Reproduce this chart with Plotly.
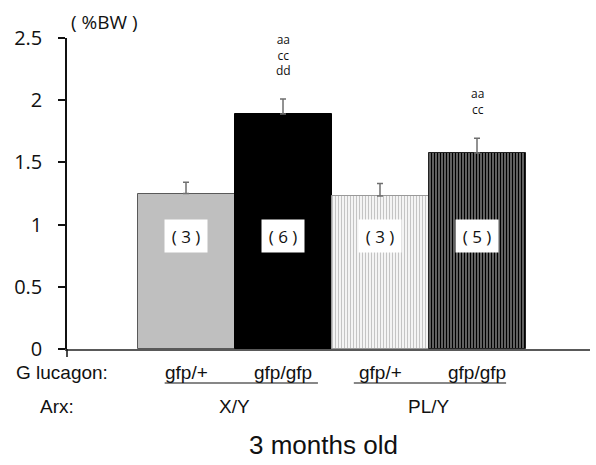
import plotly.graph_objects as go

categories = ["X/Y gfp/+", "X/Y gfp/gfp", "PL/Y gfp/+", "PL/Y gfp/gfp"]
values = [1.25, 1.89, 1.23, 1.575]
errors = [0.09, 0.12, 0.10, 0.12]
n_labels = ["( 3 )", "( 6 )", "( 3 )", "( 5 )"]
sig_labels = [[], ["aa", "cc", "dd"], [], ["aa", "cc"]]
glucagon_labels = ["gfp/+", "gfp/gfp", "gfp/+", "gfp/gfp"]
arx_labels = ["X/Y", "PL/Y"]
yticks = [0, 0.5, 1, 1.5, 2, 2.5]
ytick_text = ["0", "0.5", "1", "1.5", "2", "2.5"]

x = list(range(len(categories)))
narrow = "Liberation Sans, Arial, sans-serif"
main_font = "Open Sans, Noto Sans, sans-serif"

L, R, T, B = 67, 6, 38, 116
W, H = 596, 465
pw, ph = W - L - R, H - T - B
unit_px = ph / 2.5


def px_x(p):
    return (p - L) / pw


def px_y(p):
    return (H - B - p) / ph


fig = go.Figure()
colors = ["#bfbfbf", "#000000", "#ffffff", "#ffffff"]
patterns = [
    dict(shape=""),
    dict(shape=""),
    dict(shape="|", fgcolor="#c4c4c4", bgcolor="#ffffff", size=3, solidity=0.45, fillmode="replace"),
    dict(shape="|", fgcolor="#000000", bgcolor="#ffffff", size=3, solidity=0.75, fillmode="replace"),
]
line_colors = ["#595959", "#000000", "#9a9a9a", "#222222"]
for i in x:
    fig.add_trace(go.Bar(
        x=[i], y=[values[i]], width=1.0,
        marker=dict(color=colors[i], pattern=patterns[i],
                    line=dict(color=line_colors[i], width=1)),
        error_y=dict(type="data", symmetric=False, array=[errors[i]], arrayminus=[0],
                     color="#6f6f6f", thickness=1.5, width=3),
        showlegend=False,
    ))

txt = dict(color="#111111")
annotations = []
for i in x:
    annotations.append(dict(x=i, y=0.905, xref="x", yref="y", text=n_labels[i],
                            showarrow=False, bgcolor="#ffffff", width=40, height=30,
                            xanchor="center", yanchor="middle",
                            font=dict(family=main_font, size=17, **txt)))
    lines = sig_labels[i]
    if lines:
        base = values[i] + errors[i] + (29 + (len(lines) - 1) * 7.5) / unit_px
        annotations.append(dict(x=i, y=base, xref="x", yref="y",
                                text="<br>".join(lines), showarrow=False,
                                yanchor="middle", xanchor="center",
                                font=dict(family=main_font, size=12, **txt)))
    annotations.append(dict(x=i, y=px_y(372), xref="x", yref="paper", text=glucagon_labels[i],
                            showarrow=False, xanchor="center", yanchor="middle",
                            font=dict(family=narrow, size=19, **txt)))

for k, lab in enumerate(arx_labels):
    annotations.append(dict(x=2 * k + 0.5, y=px_y(406), xref="x", yref="paper", text=lab,
                            showarrow=False, xanchor="center", yanchor="middle",
                            font=dict(family=narrow, size=19, **txt)))

annotations.append(dict(x=px_x(14), y=px_y(372), xref="paper", yref="paper", text="G lucagon:",
                        showarrow=False, xanchor="left", yanchor="middle",
                        font=dict(family=narrow, size=19, **txt)))
annotations.append(dict(x=px_x(38), y=px_y(406), xref="paper", yref="paper", text="Arx:",
                        showarrow=False, xanchor="left", yanchor="middle",
                        font=dict(family=narrow, size=19, **txt)))
annotations.append(dict(x=px_x(323), y=px_y(445), xref="paper", yref="paper", text="3 months old",
                        showarrow=False, xanchor="center", yanchor="middle",
                        font=dict(family=narrow, size=26, **txt)))
annotations.append(dict(x=px_x(104), y=px_y(22), xref="paper", yref="paper", text="( %BW )",
                        showarrow=False, xanchor="center", yanchor="middle",
                        font=dict(family=main_font, size=19, **txt)))

shapes = [
    dict(type="line", xref="x", yref="paper", x0=-0.22, x1=1.36, y0=px_y(383), y1=px_y(383),
         line=dict(color="#111111", width=1.2)),
    dict(type="line", xref="x", yref="paper", x0=1.73, x1=3.3, y0=px_y(383), y1=px_y(383),
         line=dict(color="#111111", width=1.2)),
    dict(type="line", xref="paper", yref="paper", x0=0, x1=0, y0=0, y1=px_y(357),
         line=dict(color="#111111", width=1.5)),
]

fig.update_layout(
    width=W, height=H,
    margin=dict(l=L, r=R, t=T, b=B, pad=0),
    plot_bgcolor="#ffffff", paper_bgcolor="#ffffff",
    bargap=0,
    annotations=annotations,
    shapes=shapes,
    xaxis=dict(range=[-1.227, 4.165], showticklabels=False, ticks="", showgrid=False,
               zeroline=False, showline=True, linecolor="#595959", linewidth=2),
    yaxis=dict(range=[0, 2.5], tickvals=yticks, ticktext=ytick_text, ticks="outside",
               ticklen=7, tickcolor="#111111", tickwidth=1.5, showgrid=False, zeroline=False,
               showline=True, linecolor="#111111", linewidth=1.5, ticklabelstandoff=12,
               tickfont=dict(family=main_font, size=20, **txt)),
)

fig.write_html("out.html")
